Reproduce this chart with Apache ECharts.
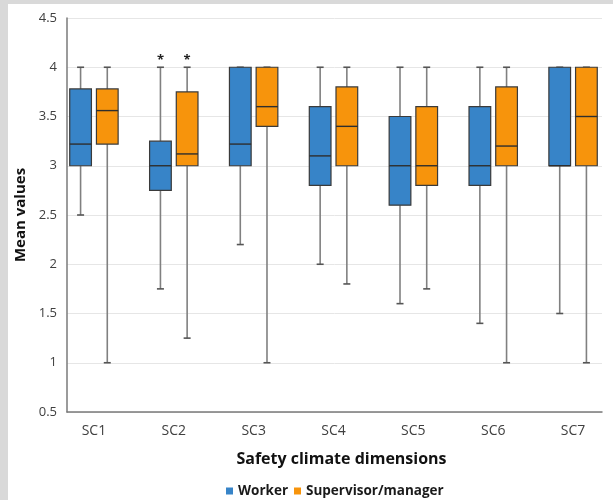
<!DOCTYPE html>
<html><head><meta charset="utf-8">
<script src="https://cdn.jsdelivr.net/npm/echarts@6/dist/echarts.min.js"></script>
<style>
html,body{margin:0;padding:0;width:613px;height:500px;overflow:hidden;background:#d9d9d9;}
#frame{position:absolute;left:8px;top:4px;width:605px;height:496px;background:#ffffff;}
#chart{position:absolute;left:0;top:0;width:613px;height:500px;}
</style></head><body>
<div id="frame"></div><div id="chart"></div>
<script>
// ---- data ----
var categories = ['SC1','SC2','SC3','SC4','SC5','SC6','SC7'];
var yTicks = [0.5, 1, 1.5, 2, 2.5, 3, 3.5, 4, 4.5];

var workerMin    = [2.5, 1.75, 2.2, 2.0, 1.6, 1.4, 1.5];
var workerQ1     = [3.0, 2.75, 3.0, 2.8, 2.6, 2.8, 3.0];
var workerMedian = [3.22, 3.0, 3.22, 3.1, 3.0, 3.0, 3.0];
var workerQ3     = [3.78, 3.25, 4.0, 3.6, 3.5, 3.6, 4.0];
var workerMax    = [4, 4, 4, 4, 4, 4, 4];

var supMin    = [1.0, 1.25, 1.0, 1.8, 1.75, 1.0, 1.0];
var supQ1     = [3.22, 3.0, 3.4, 3.0, 2.8, 3.0, 3.0];
var supMedian = [3.56, 3.12, 3.6, 3.4, 3.0, 3.2, 3.5];
var supQ3     = [3.78, 3.75, 4.0, 3.8, 3.6, 3.8, 4.0];
var supMax    = [4, 4, 4, 4, 4, 4, 4];

var workerOutlierCat = [1];
var workerOutlierVal = [4.09];
var supOutlierCat = [1];
var supOutlierVal = [4.09];

// ---- build ----
function rows(mn, q1, md, q3, mx) {
  return categories.map(function (c, i) { return [i, mn[i], q1[i], md[i], q3[i], mx[i]]; });
}
function pts(cats, vals) {
  return cats.map(function (c, i) { return [c, vals[i]]; });
}
var BLUE = '#3784c8', ORANGE = '#f7940c';
var HALF = 10.85, OFF = 13.35;

function boxRender(offset, color) {
  return function (params, api) {
    var i = api.value(0);
    var x = api.coord([i, api.value(3)])[0] + offset;
    var yMin = api.coord([i, api.value(1)])[1];
    var yQ1 = api.coord([i, api.value(2)])[1];
    var yMed = api.coord([i, api.value(3)])[1];
    var yQ3 = api.coord([i, api.value(4)])[1];
    var yMax = api.coord([i, api.value(5)])[1];
    var wStyle = {stroke: '#808080', lineWidth: 1.6};
    var cStyle = {stroke: '#555555', lineWidth: 1.6};
    return {type: 'group', children: [
      {type: 'line', shape: {x1: x, y1: yMax, x2: x, y2: yQ3}, style: wStyle},
      {type: 'line', shape: {x1: x, y1: yQ1, x2: x, y2: yMin}, style: wStyle},
      {type: 'line', shape: {x1: x - 3.5, y1: yMax, x2: x + 3.5, y2: yMax}, style: cStyle},
      {type: 'line', shape: {x1: x - 3.5, y1: yMin, x2: x + 3.5, y2: yMin}, style: cStyle},
      {type: 'rect', shape: {x: x - HALF, y: yQ3, width: 2 * HALF, height: yQ1 - yQ3},
        style: {fill: color, stroke: '#3a3a3a', lineWidth: 1.2}},
      {type: 'line', shape: {x1: x - HALF, y1: yMed, x2: x + HALF, y2: yMed},
        style: {stroke: '#2e2e2e', lineWidth: 1.4}}
    ]};
  };
}
function starRender(offset) {
  return function (params, api) {
    var p = api.coord([api.value(0), api.value(1)]);
    return {type: 'text', x: p[0] + offset, y: p[1] + 2,
      style: {text: '*', fill: '#222', font: 'bold 13px "Open Sans"', align: 'center', verticalAlign: 'middle'}};
  };
}

var chart = echarts.init(document.getElementById('chart'));
chart.setOption({
  backgroundColor: 'transparent',
  animation: false,
  textStyle: {fontFamily: '"Open Sans", sans-serif'},
  grid: [
    {left: 67, right: 11, top: 18, bottom: 88},
    {left: 54, width: 561, top: 18, bottom: 88}
  ],
  legend: {
    left: 221, top: 479, itemWidth: 7, itemHeight: 7, itemGap: 6,
    textStyle: {fontWeight: 'bold', fontSize: 13.5, color: '#1a1a1a', fontFamily: '"Open Sans", sans-serif'},
    data: [
      {name: 'Worker', icon: 'rect', itemStyle: {color: BLUE}},
      {name: 'Supervisor/manager', icon: 'rect', itemStyle: {color: ORANGE}}
    ]
  },
  xAxis: [
    {type: 'category', gridIndex: 0, data: categories,
      axisLine: {show: true, lineStyle: {color: '#7a7a7a', width: 1.5}},
      axisTick: {show: false}, axisLabel: {show: false}, splitLine: {show: false},
      name: 'Safety climate dimensions', nameLocation: 'middle', nameGap: 39,
      nameTextStyle: {fontWeight: 'bold', fontSize: 16, color: '#111', padding: [0, 0, 0, 14]}},
    {type: 'category', gridIndex: 1, data: categories, boundaryGap: true,
      axisLine: {show: false}, axisTick: {show: false}, splitLine: {show: false},
      axisLabel: {margin: 12, fontSize: 14, color: '#404040'}}
  ],
  yAxis: [
    {type: 'value', gridIndex: 0, min: yTicks[0], max: yTicks[yTicks.length - 1], interval: 0.5,
      axisLine: {show: true, lineStyle: {color: '#7a7a7a', width: 1.5}},
      axisTick: {show: false},
      axisLabel: {margin: 10, fontSize: 13, color: '#404040'},
      splitLine: {show: true, lineStyle: {color: '#e6e6e6', width: 1}},
      name: 'Mean values', nameLocation: 'middle', nameGap: 34,
      nameTextStyle: {fontWeight: 'bold', fontSize: 15, color: '#111'}},
    {type: 'value', gridIndex: 1, min: yTicks[0], max: yTicks[yTicks.length - 1], interval: 0.5,
      show: false}
  ],
  series: [
    {name: 'Worker', type: 'custom', xAxisIndex: 1, yAxisIndex: 1, itemStyle: {color: BLUE},
      renderItem: boxRender(-OFF, BLUE), encode: {x: 0, y: [1, 2, 3, 4, 5]},
      data: rows(workerMin, workerQ1, workerMedian, workerQ3, workerMax), z: 3},
    {name: 'Supervisor/manager', type: 'custom', xAxisIndex: 1, yAxisIndex: 1, itemStyle: {color: ORANGE},
      renderItem: boxRender(OFF, ORANGE), encode: {x: 0, y: [1, 2, 3, 4, 5]},
      data: rows(supMin, supQ1, supMedian, supQ3, supMax), z: 3},
    {name: 'Worker outlier', type: 'custom', xAxisIndex: 1, yAxisIndex: 1,
      renderItem: starRender(-OFF), encode: {x: 0, y: 1},
      data: pts(workerOutlierCat, workerOutlierVal), z: 4},
    {name: 'Supervisor outlier', type: 'custom', xAxisIndex: 1, yAxisIndex: 1,
      renderItem: starRender(OFF), encode: {x: 0, y: 1},
      data: pts(supOutlierCat, supOutlierVal), z: 4}
  ]
});
</script></body></html>
